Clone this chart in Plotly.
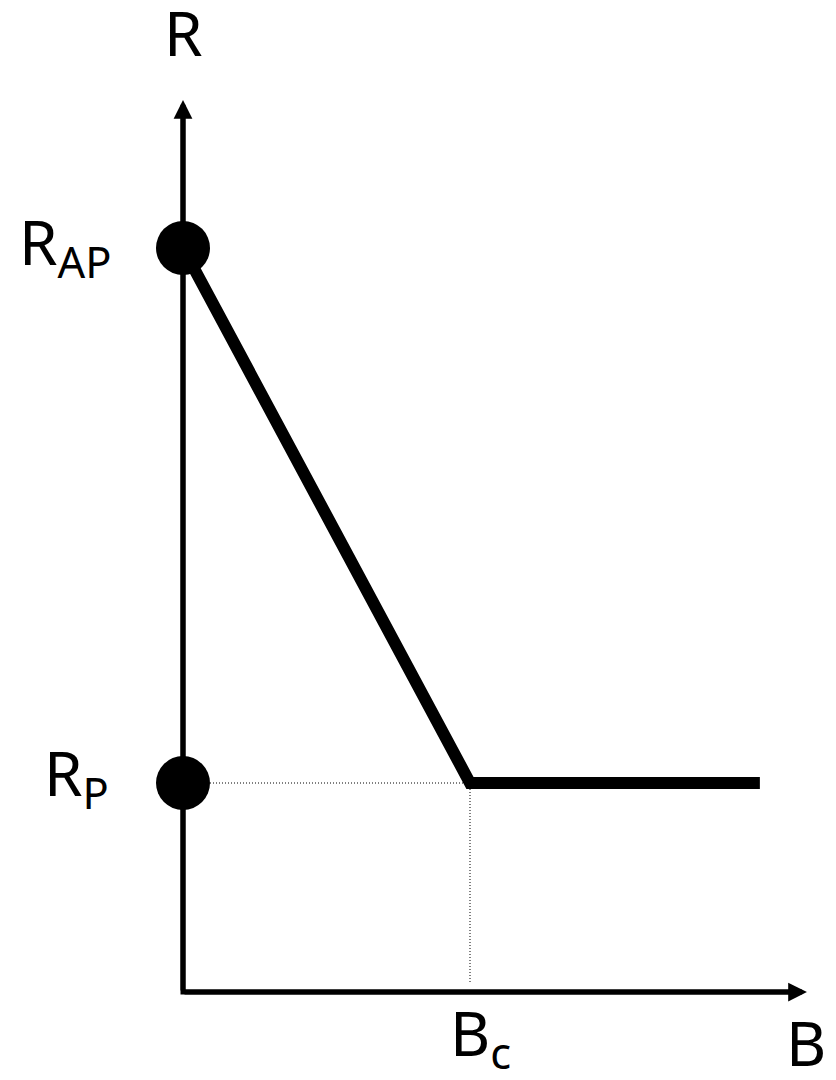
import plotly.graph_objects as go

# ---- data (schematic values) ----
B_values = [0.0, 1.0, 2.01]          # 0, B_c, end of plateau
R_values = [3.56, 1.0, 1.0]          # R_AP, R_P, R_P
marker_B = [0.0, 0.0]
marker_R = [3.56, 1.0]               # R_AP, R_P
B_c = 1.0
R_P = 1.0
R_AP = 3.56
B_axis_max = 2.174
R_axis_max = 4.268
tick_labels = {"R_AP": "R<sub>AP</sub>", "R_P": "R<sub>P</sub>", "B_c": "B<sub>c</sub>"}

# ---- layout constants (page body has an 8px margin) ----
W, H = 828, 1072
X0_PX, Y0_PX = 175, 984
PX_B, PX_R = 287.0, 209.0
FONT = "Noto Sans"
FS = 62

fig = go.Figure()

# dotted guide lines
fig.add_trace(go.Scatter(x=[0, B_c], y=[R_P, R_P], mode="lines",
                         line=dict(color="black", width=1, dash="1px,2px"),
                         hoverinfo="skip", showlegend=False))
fig.add_trace(go.Scatter(x=[B_c, B_c], y=[R_P, 0.045], mode="lines",
                         line=dict(color="black", width=1, dash="1px,2px"),
                         hoverinfo="skip", showlegend=False))

# axes body
fig.add_trace(go.Scatter(x=[0, 0, B_axis_max - 0.05], y=[R_axis_max - 0.07, 0, 0], mode="lines",
                         line=dict(color="black", width=5),
                         hoverinfo="skip", showlegend=False))

# main curve
fig.add_trace(go.Scatter(x=B_values, y=R_values, mode="lines",
                         line=dict(color="black", width=12),
                         hoverinfo="skip", showlegend=False))

# markers
fig.add_trace(go.Scatter(x=marker_B, y=marker_R, mode="markers",
                         marker=dict(color="black", size=54, line=dict(width=0)),
                         hoverinfo="skip", showlegend=False))

annotations = []
# arrow heads
annotations.append(dict(x=B_axis_max, y=0, ax=0, ay=0, xref="x", yref="y", axref="x", ayref="y",
                        text="", showarrow=True, arrowhead=2, arrowsize=0.75, arrowwidth=5,
                        arrowcolor="black", standoff=0, startstandoff=0))
annotations.append(dict(x=0, y=R_axis_max, ax=0, ay=0, xref="x", yref="y", axref="x", ayref="y",
                        text="", showarrow=True, arrowhead=2, arrowsize=0.75, arrowwidth=5,
                        arrowcolor="black", standoff=0, startstandoff=0))

txt_font = dict(family=FONT, size=FS, color="black")
# axis titles
annotations.append(dict(x=0, y=R_axis_max, xref="x", yref="y", text="R", showarrow=False,
                        font=txt_font, xanchor="center", yanchor="bottom", yshift=24))
annotations.append(dict(x=B_axis_max, y=0, xref="x", yref="y", text="B", showarrow=False,
                        font=txt_font, xanchor="center", yanchor="top", xshift=-1, yshift=-6))
# value labels
annotations.append(dict(x=0, y=R_AP, xref="x", yref="y", text=tick_labels["R_AP"], showarrow=False,
                        font=txt_font, xanchor="right", yanchor="middle", xshift=-69, yshift=3))
annotations.append(dict(x=0, y=R_P, xref="x", yref="y", text=tick_labels["R_P"], showarrow=False,
                        font=txt_font, xanchor="right", yanchor="middle", xshift=-72, yshift=7))
annotations.append(dict(x=B_c, y=0, xref="x", yref="y", text=tick_labels["B_c"], showarrow=False,
                        font=txt_font, xanchor="center", yanchor="top", xshift=10, yshift=4))

fig.update_layout(
    width=W, height=H,
    margin=dict(l=0, r=0, t=0, b=0),
    paper_bgcolor="white", plot_bgcolor="white",
    showlegend=False,
    annotations=annotations,
    xaxis=dict(range=[-X0_PX / PX_B, (W - X0_PX) / PX_B], visible=False, fixedrange=True),
    yaxis=dict(range=[-(H - Y0_PX) / PX_R, Y0_PX / PX_R], visible=False, fixedrange=True),
)

fig.write_html("out.html")
